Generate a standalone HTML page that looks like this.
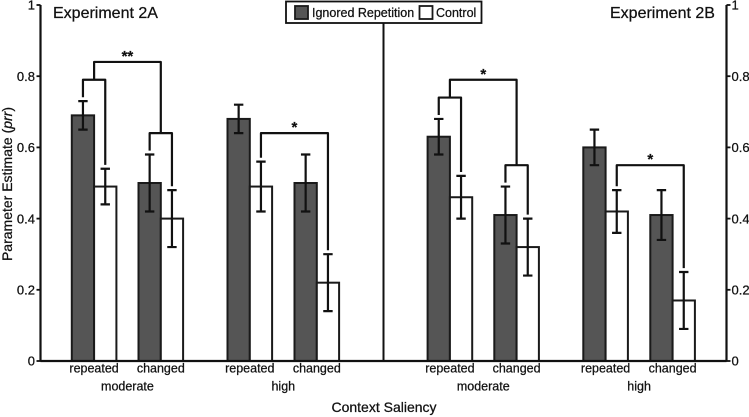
<!DOCTYPE html>
<html lang="en">
<head>
<meta charset="utf-8">
<title>Parameter Estimate by Context Saliency</title>
<style>
html,body{margin:0;padding:0;background:#fff;}
body{width:749px;height:417px;overflow:hidden;}
svg{display:block;filter:blur(0.35px);}
text{font-family:"Liberation Sans",sans-serif;fill:#111;stroke:#111;stroke-width:0.25px;}
</style>
</head>
<body>
<svg id="chart" width="749" height="417" viewBox="0 0 749 417" xmlns="http://www.w3.org/2000/svg">
  <g id="marks"></g>
  <g id="axes"></g>
  <text transform="translate(12,184) rotate(-90)" text-anchor="middle" font-size="14">Parameter Estimate (<tspan font-style="italic">prr</tspan>)</text>
  <text x="384" y="412" text-anchor="middle" font-size="14">Context Saliency</text>
  <text x="53" y="18" font-size="16">Experiment 2A</text>
  <text x="610" y="18" font-size="16">Experiment 2B</text>
  <g>
    <rect x="286" y="1.5" width="195.5" height="21.5" fill="#fff" stroke="#111" stroke-width="1.8"/>
    <rect x="295" y="6" width="13" height="13" fill="#555" stroke="#1a1a1a" stroke-width="1.8"/>
    <text x="312" y="17" font-size="12.5">Ignored Repetition</text>
    <rect x="419.5" y="6" width="13" height="13" fill="#fff" stroke="#1a1a1a" stroke-width="1.8"/>
    <text x="436" y="17" font-size="12.5">Control</text>
  </g>
</svg>
<script>
// ---- data ----
const tickValues = [0, 0.2, 0.4, 0.6, 0.8, 1];
const tickLabels = ['0', '0.2', '0.4', '0.6', '0.8', '1'];
const contextLabels = ['repeated', 'changed', 'repeated', 'changed'];
const saliencyLabels = ['moderate', 'high'];

const ignored2A = [0.69, 0.50, 0.68, 0.50];
const ignored2ALow = [0.65, 0.42, 0.64, 0.42];
const ignored2AHigh = [0.73, 0.58, 0.72, 0.58];
const control2A = [0.49, 0.40, 0.49, 0.22];
const control2ALow = [0.44, 0.32, 0.42, 0.14];
const control2AHigh = [0.54, 0.48, 0.56, 0.30];

const ignored2B = [0.63, 0.41, 0.60, 0.41];
const ignored2BLow = [0.58, 0.33, 0.55, 0.34];
const ignored2BHigh = [0.68, 0.49, 0.65, 0.48];
const control2B = [0.46, 0.32, 0.42, 0.17];
const control2BLow = [0.40, 0.24, 0.36, 0.09];
const control2BHigh = [0.52, 0.40, 0.48, 0.25];

// bracket heights, in parameter-estimate units
const pairLevel2A = 0.79;
const pairLevel2AChanged = 0.64;
const spanLevel2A = 0.84;
const highLevel2A = 0.64;
const pairLevel2B = 0.74;
const pairLevel2BChanged = 0.55;
const spanLevel2B = 0.79;
const highLevel2B = 0.55;
const starLabels = ['**', '*', '*', '*'];

// ---- axis functions ----
const SVG = 'http://www.w3.org/2000/svg';
const marks = document.getElementById('marks');
const axes = document.getElementById('axes');
const y = v => 361 - v * 356;
const groupOffset = [0, 66.7, 155.7, 222.7];
const panelStart = [71.8, 427.6];
const barW = 22.3;
const barLeft = (panel, group, series) => panelStart[panel] + groupOffset[group] + series * barW;
const barMid = (panel, group, series) => barLeft(panel, group, series) + barW / 2;
const groupMid = (panel, group) => barLeft(panel, group, 1);

function node(tag, attrs, parent) {
  const el = document.createElementNS(SVG, tag);
  for (const k in attrs) el.setAttribute(k, attrs[k]);
  parent.appendChild(el);
  return el;
}

function drawBars(panel, tag, values, series) {
  values.forEach((v, g) => {
    const bar = node('rect', {
      x: barLeft(panel, g, series), y: y(v), width: barW, height: y(0) - y(v),
      fill: series === 0 ? '#555' : '#fff', stroke: '#1a1a1a', 'stroke-width': 2
    }, marks);
    
    
  });
}

function drawErrors(panel, tag, lows, highs, series) {
  lows.forEach((lo, g) => {
    const cx = barMid(panel, g, series);
    const d = 'M' + cx + ' ' + y(lo) + 'V' + y(highs[g]) +
      'M' + (cx - 4.7) + ' ' + y(highs[g]) + 'H' + (cx + 4.7) +
      'M' + (cx - 4.7) + ' ' + y(lo) + 'H' + (cx + 4.7);
    const err = node('path', {d: d, fill: 'none', stroke: '#111', 'stroke-width': 2.2}, marks);
    
    
  });
}

function drawBracket(name, x1, y1, x2, y2, level) {
  const d = 'M' + x1 + ' ' + y(y1) + 'V' + y(level) + 'H' + x2 + 'V' + y(y2);
  const br = node('path', {d: d, fill: 'none', stroke: '#111', 'stroke-width': 2.2, 'stroke-linejoin': 'round'}, marks);
  
  
}

function drawStar(name, label, cx, level) {
  const t = node('text', {x: cx, y: y(level) - 1, 'text-anchor': 'middle', 'font-size': 15, 'font-weight': 'bold'}, marks);
  t.textContent = label;
  
  
}

// ---- bars & error bars ----
drawBars(0, 'ignored-2a', ignored2A, 0);
drawBars(0, 'control-2a', control2A, 1);
drawBars(1, 'ignored-2b', ignored2B, 0);
drawBars(1, 'control-2b', control2B, 1);
drawErrors(0, 'ignored-2a', ignored2ALow, ignored2AHigh, 0);
drawErrors(0, 'control-2a', control2ALow, control2AHigh, 1);
drawErrors(1, 'ignored-2b', ignored2BLow, ignored2BHigh, 0);
drawErrors(1, 'control-2b', control2BLow, control2BHigh, 1);

// ---- significance brackets ----
const gap = 0.011;
drawBracket('bracket-2a-repeated', barMid(0,0,0), ignored2AHigh[0] + gap, barMid(0,0,1), control2AHigh[0] + gap, pairLevel2A);
drawBracket('bracket-2a-changed', barMid(0,1,0), ignored2AHigh[1] + gap, barMid(0,1,1), control2AHigh[1] + gap, pairLevel2AChanged);
drawBracket('bracket-2a-moderate', groupMid(0,0), pairLevel2A, groupMid(0,1), pairLevel2AChanged, spanLevel2A);
drawBracket('bracket-2a-high', barMid(0,2,1), control2AHigh[2] + gap, barMid(0,3,1), control2AHigh[3] + gap, highLevel2A);
drawBracket('bracket-2b-repeated', barMid(1,0,0), ignored2BHigh[0] + gap, barMid(1,0,1), control2BHigh[0] + gap, pairLevel2B);
drawBracket('bracket-2b-changed', barMid(1,1,0), ignored2BHigh[1] + gap, barMid(1,1,1), control2BHigh[1] + gap, pairLevel2BChanged);
drawBracket('bracket-2b-moderate', groupMid(1,0), pairLevel2B, groupMid(1,1), pairLevel2BChanged, spanLevel2B);
drawBracket('bracket-2b-high', barMid(1,2,1), control2BHigh[2] + gap, barMid(1,3,1), control2BHigh[3] + gap, highLevel2B);

drawStar('significance-2a-moderate', starLabels[0], (groupMid(0,0) + groupMid(0,1)) / 2, spanLevel2A);
drawStar('significance-2a-high', starLabels[1], (barMid(0,2,1) + barMid(0,3,1)) / 2, highLevel2A);
drawStar('significance-2b-moderate', starLabels[2], (groupMid(1,0) + groupMid(1,1)) / 2, spanLevel2B);
drawStar('significance-2b-high', starLabels[3], (barMid(1,2,1) + barMid(1,3,1)) / 2, highLevel2B);

// ---- axes ----
const leftX = 40.5, rightX = 726.5, midX = 383.5;
const leftAxis = node('path', {d: 'M' + leftX + ' ' + y(1) + 'V' + y(0), stroke: '#111', 'stroke-width': 2.2, fill: 'none'}, axes);


const rightAxis = node('path', {d: 'M' + rightX + ' ' + y(1) + 'V' + y(0), stroke: '#111', 'stroke-width': 2.2, fill: 'none'}, axes);


const divider = node('path', {d: 'M' + midX + ' 23V' + y(0), stroke: '#111', 'stroke-width': 2, fill: 'none'}, axes);


const xAxis = node('path', {d: 'M' + leftX + ' ' + y(0) + 'H' + rightX, stroke: '#111', 'stroke-width': 2.2, fill: 'none'}, axes);



tickValues.forEach((v, i) => {
  const tl = node('path', {d: 'M' + (leftX - 4) + ' ' + y(v) + 'H' + leftX, stroke: '#111', 'stroke-width': 1.8}, axes);
  
  
  const tr = node('path', {d: 'M' + rightX + ' ' + y(v) + 'H' + (rightX + 4), stroke: '#111', 'stroke-width': 1.8}, axes);
  
  
  const a = node('text', {x: 35, y: y(v) + 4.7, 'text-anchor': 'end', 'font-size': 13}, axes);
  a.textContent = tickLabels[i];
  
  
  const b = node('text', {x: 731.5, y: y(v) + 4.7, 'font-size': 13}, axes);
  b.textContent = tickLabels[i];
  
  
});

[0, 1].forEach(panel => {
  contextLabels.forEach((label, g) => {
    const t = node('text', {x: groupMid(panel, g), y: 372.5, 'text-anchor': 'middle', 'font-size': 12.5}, axes);
    t.textContent = label;
    
    
  });
  saliencyLabels.forEach((label, s) => {
    const cx = (groupMid(panel, s * 2) + groupMid(panel, s * 2 + 1)) / 2;
    const t = node('text', {x: cx, y: 390.5, 'text-anchor': 'middle', 'font-size': 12.5}, axes);
    t.textContent = label;
    
    
  });
});
</script>
</body>
</html>
